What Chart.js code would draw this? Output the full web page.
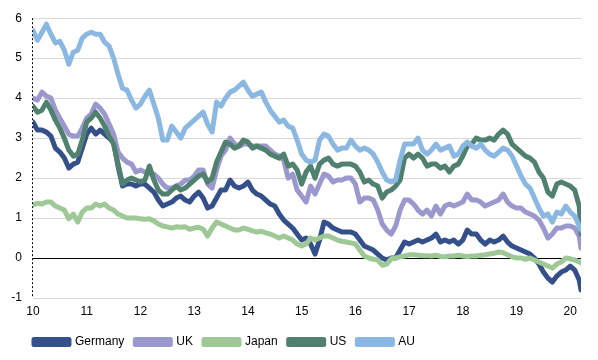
<!DOCTYPE html>
<html>
<head>
<meta charset="utf-8">
<script src="https://cdn.jsdelivr.net/npm/chart.js@4/dist/chart.umd.min.js"></script>
<style>
  html, body { margin: 0; padding: 0; background: #fff; }
  #wrap { width: 598px; height: 360px; }
</style>
</head>
<body>
<div id="wrap"><canvas id="myChart" width="598" height="360"></canvas></div>
<script>
// monthly readings from Jan 2010 to Mar 2020, last point = latest close
const germany = [
  3.4, 3.2, 3.2, 3.15, 3.05, 2.75, 2.65, 2.5, 2.25, 2.35, 2.4, 2.75,
  3.1, 3.25, 3.1, 3.2, 3.1, 3.0, 2.9, 2.3, 1.8, 1.85, 1.85, 1.8,
  1.85, 1.85, 1.75, 1.65, 1.45, 1.3, 1.35, 1.4, 1.5, 1.55, 1.45, 1.4,
  1.55, 1.65, 1.5, 1.25, 1.3, 1.5, 1.7, 1.7, 1.95, 1.8, 1.75, 1.8,
  1.9, 1.7, 1.6, 1.55, 1.45, 1.35, 1.3, 1.1, 0.95, 0.85, 0.75, 0.6,
  0.45, 0.5, 0.35, 0.1, 0.45, 0.9, 0.85, 0.75, 0.7, 0.65, 0.65, 0.65,
  0.6, 0.45, 0.3, 0.25, 0.2, 0.1, 0.0, -0.05, 0.0, 0.0, 0.2, 0.4,
  0.35, 0.4, 0.45, 0.4, 0.45, 0.5, 0.6, 0.4, 0.45, 0.4, 0.45, 0.35,
  0.45, 0.7, 0.6, 0.6, 0.45, 0.35, 0.45, 0.4, 0.45, 0.55, 0.4, 0.3,
  0.25, 0.2, 0.15, 0.1, 0.0, -0.15, -0.35, -0.5, -0.6, -0.45, -0.35, -0.3,
  -0.2, -0.3, -0.55, -0.8
];
const uk = [
  4.0, 3.95, 4.15, 4.05, 4.0, 3.7, 3.5, 3.3, 3.1, 3.05, 3.05, 3.25,
  3.5, 3.6, 3.85, 3.75, 3.6, 3.35, 3.1, 2.65, 2.5, 2.4, 2.35, 2.15,
  2.2, 2.15, 2.1, 2.1, 2.0, 1.85, 1.75, 1.75, 1.8, 1.85, 1.95, 1.95,
  2.05, 2.2, 2.2, 1.85, 1.75, 2.2, 2.55, 2.7, 3.0, 2.85, 2.8, 2.85,
  2.85, 2.8, 2.8, 2.8, 2.8, 2.7, 2.6, 2.55, 2.45, 2.0, 2.1, 1.7,
  1.55, 1.4, 1.8, 1.6, 1.85, 2.1, 2.05, 1.9, 1.95, 1.95, 2.0, 2.0,
  1.85, 1.4, 1.5, 1.5, 1.45, 1.2, 0.85, 0.7, 0.6, 0.8, 1.2, 1.45,
  1.45, 1.35, 1.2, 1.1, 1.2, 1.05, 1.3, 1.1, 1.3, 1.35, 1.3, 1.35,
  1.4, 1.6, 1.45, 1.45, 1.4, 1.3, 1.35, 1.4, 1.45, 1.6, 1.4, 1.3,
  1.25, 1.25, 1.15, 1.1, 1.05, 0.95, 0.75, 0.5, 0.6, 0.75, 0.75, 0.8,
  0.8, 0.75, 0.55, 0.25
];
const japan = [
  1.33, 1.37, 1.35, 1.4, 1.4, 1.3, 1.25, 1.2, 0.98, 1.1, 0.9, 1.15,
  1.25, 1.25, 1.35, 1.3, 1.35, 1.25, 1.2, 1.1, 1.05, 1.0, 1.0, 1.0,
  0.98, 0.97, 0.98, 0.93, 0.85, 0.8, 0.78, 0.75, 0.78, 0.77, 0.78, 0.72,
  0.75, 0.77, 0.72, 0.55, 0.75, 0.9, 0.85, 0.8, 0.75, 0.7, 0.7, 0.75,
  0.72, 0.68, 0.65, 0.67, 0.63, 0.6, 0.55, 0.5, 0.55, 0.5, 0.45, 0.35,
  0.3, 0.35, 0.5, 0.45, 0.5, 0.55, 0.55, 0.5, 0.45, 0.42, 0.4, 0.38,
  0.35, 0.2, 0.05, 0.0, -0.03, -0.05, -0.18, -0.15, -0.02, 0.0, 0.03, 0.05,
  0.08, 0.08, 0.07, 0.06, 0.06, 0.05, 0.07, 0.04, 0.03, 0.05, 0.05, 0.07,
  0.05, 0.04, 0.05, 0.05, 0.07, 0.08, 0.1, 0.12, 0.15, 0.13, 0.08, 0.03,
  0.0, 0.0, -0.03, 0.0, -0.05, -0.1, -0.15, -0.2, -0.25, -0.15, -0.1, 0.0,
  -0.02, -0.05, -0.1, -0.12
];
const us = [
  3.8, 3.65, 3.7, 3.9, 3.7, 3.45, 3.25, 3.0, 2.7, 2.55, 2.6, 2.95,
  3.4, 3.5, 3.65, 3.5, 3.3, 3.05, 2.85, 2.35, 1.85, 1.95, 2.0, 1.95,
  1.9, 1.95, 2.3, 1.95, 1.7, 1.6, 1.6, 1.7, 1.8, 1.7, 1.75, 1.85,
  1.95, 2.05, 2.1, 1.9, 2.0, 2.4, 2.65, 2.9, 2.85, 2.75, 2.8, 2.95,
  2.9, 2.75, 2.8, 2.75, 2.7, 2.6, 2.55, 2.5, 2.6, 2.3, 2.35, 2.2,
  1.85, 2.15, 2.3, 2.0, 2.35, 2.45, 2.5, 2.35, 2.3, 2.35, 2.35, 2.35,
  2.3, 2.15, 1.9, 1.95, 1.85, 1.8, 1.5, 1.65, 1.7, 1.8, 1.95, 2.5,
  2.6, 2.5, 2.6, 2.5, 2.3, 2.35, 2.35, 2.25, 2.3, 2.15, 2.3, 2.35,
  2.55, 2.8, 2.85, 3.0, 2.95, 2.95, 3.0, 2.95, 3.1, 3.2, 3.1, 2.85,
  2.75, 2.65, 2.55, 2.5, 2.4, 2.15, 2.0, 1.65, 1.55, 1.85, 1.9, 1.85,
  1.8, 1.7, 1.3, 0.6
];
const au = [
  5.69, 5.45, 5.65, 5.85, 5.6, 5.38, 5.42, 5.2, 4.85, 5.15, 5.2, 5.5,
  5.6, 5.65, 5.6, 5.6, 5.4, 5.3, 5.0, 4.6, 4.25, 4.2, 3.95, 3.75,
  3.85, 4.05, 4.2, 3.85, 3.5, 2.95, 2.95, 3.3, 3.15, 3.0, 3.25, 3.35,
  3.45, 3.55, 3.65, 3.35, 3.15, 3.9, 3.8, 4.0, 4.15, 4.2, 4.3, 4.4,
  4.2, 4.05, 4.1, 4.15, 3.9, 3.7, 3.55, 3.4, 3.45, 3.3, 3.25, 2.95,
  2.6, 2.45, 2.4, 2.45, 2.95, 3.1, 3.05, 2.85, 2.7, 2.75, 2.75, 2.95,
  2.8, 2.7, 2.75, 2.7, 2.6, 2.4, 2.15, 1.95, 1.9, 1.95, 2.45, 2.85,
  2.85, 2.85, 3.0, 2.7, 2.6, 2.7, 2.85, 2.7, 2.75, 2.8, 2.55, 2.6,
  2.8, 2.9, 2.8, 2.75, 2.85, 2.7, 2.6, 2.55, 2.65, 2.75, 2.7, 2.55,
  2.3, 2.05, 1.85, 1.75, 1.5, 1.25, 1.05, 1.1, 0.9, 1.15, 1.1, 1.3,
  1.15, 1.05, 0.8, 0.7
];
const yearTicks = [10, 11, 12, 13, 14, 15, 16, 17, 18, 19, 20];

// x position of each reading, in years (10 = 2010)
const dates = [];
for (let i = 0; i < germany.length - 1; i++) dates.push(10 + i / 12);
dates.push(20.2);

function toPoints(values) {
    return values.map((v, i) => ({ x: dates[i], y: v }));
}

function makeSet(label, values, color, order) {
    return {
        label: label,
        data: toPoints(values),
        borderColor: color,
        backgroundColor: color,
        borderWidth: 5,
        pointRadius: 0,
        tension: 0,
        borderJoinStyle: 'round',
        borderCapStyle: 'round',
        order: order
    };
}

// dotted vertical axis line on the left, like the original
const dottedAxis = {
    id: 'dottedAxis',
    afterLayout(chart) {
        // legend sits left of centre in the original
        chart.legend.left -= 66;
        chart.legend.right -= 66;
    },
    afterDraw(chart) {
        const c = chart.ctx;
        const a = chart.chartArea;
        c.save();
        c.strokeStyle = '#000';
        c.lineWidth = 1;
        c.setLineDash([2, 2]);
        c.beginPath();
        c.moveTo(a.left - 0.5, a.top);
        c.lineTo(a.left - 0.5, a.bottom);
        c.stroke();
        c.restore();
    }
};

Chart.defaults.font.family = '"Liberation Sans", Arial, sans-serif';
Chart.defaults.font.size = 12;
Chart.defaults.color = '#000';

const ctx = document.getElementById('myChart');
new Chart(ctx, {
    type: 'line',
    data: {
        datasets: [
            makeSet('Germany', germany, '#34508a', 5),
            makeSet('UK', uk, '#9b98cd', 4),
            makeSet('Japan', japan, '#9ec896', 3),
            makeSet('US', us, '#50806e', 2),
            makeSet('AU', au, '#8ab8e2', 1)
        ]
    },
    plugins: [dottedAxis],
    options: {
        responsive: false,
        animation: false,
        layout: { padding: { left: 0, right: 17, top: 18, bottom: 2 } },
        plugins: {
            tooltip: { enabled: false },
            legend: {
                position: 'bottom',
                labels: {
                    boxWidth: 35,
                    boxHeight: 5,
                    padding: 11,
                    sort: (a, b) => a.datasetIndex - b.datasetIndex
                }
            }
        },
        scales: {
            x: {
                type: 'linear',
                min: 10,
                max: 20.2,
                afterFit: (scale) => { scale.height = 27; },
                afterBuildTicks: (scale) => {
                    scale.ticks = yearTicks.map(v => ({ value: v }));
                },
                ticks: { padding: 6, maxRotation: 0, autoSkip: false },
                grid: { display: false, drawTicks: false },
                border: { display: false }
            },
            y: {
                min: -1,
                max: 6,
                afterFit: (scale) => { scale.width = 33; },
                ticks: { stepSize: 1, padding: 11 },
                grid: {
                    drawTicks: false,
                    color: (c) => c.tick && c.tick.value === 0 ? '#000' : '#d9d9d9',
                    lineWidth: 1
                },
                border: { display: false }
            }
        }
    }
});
</script>
</body>
</html>
